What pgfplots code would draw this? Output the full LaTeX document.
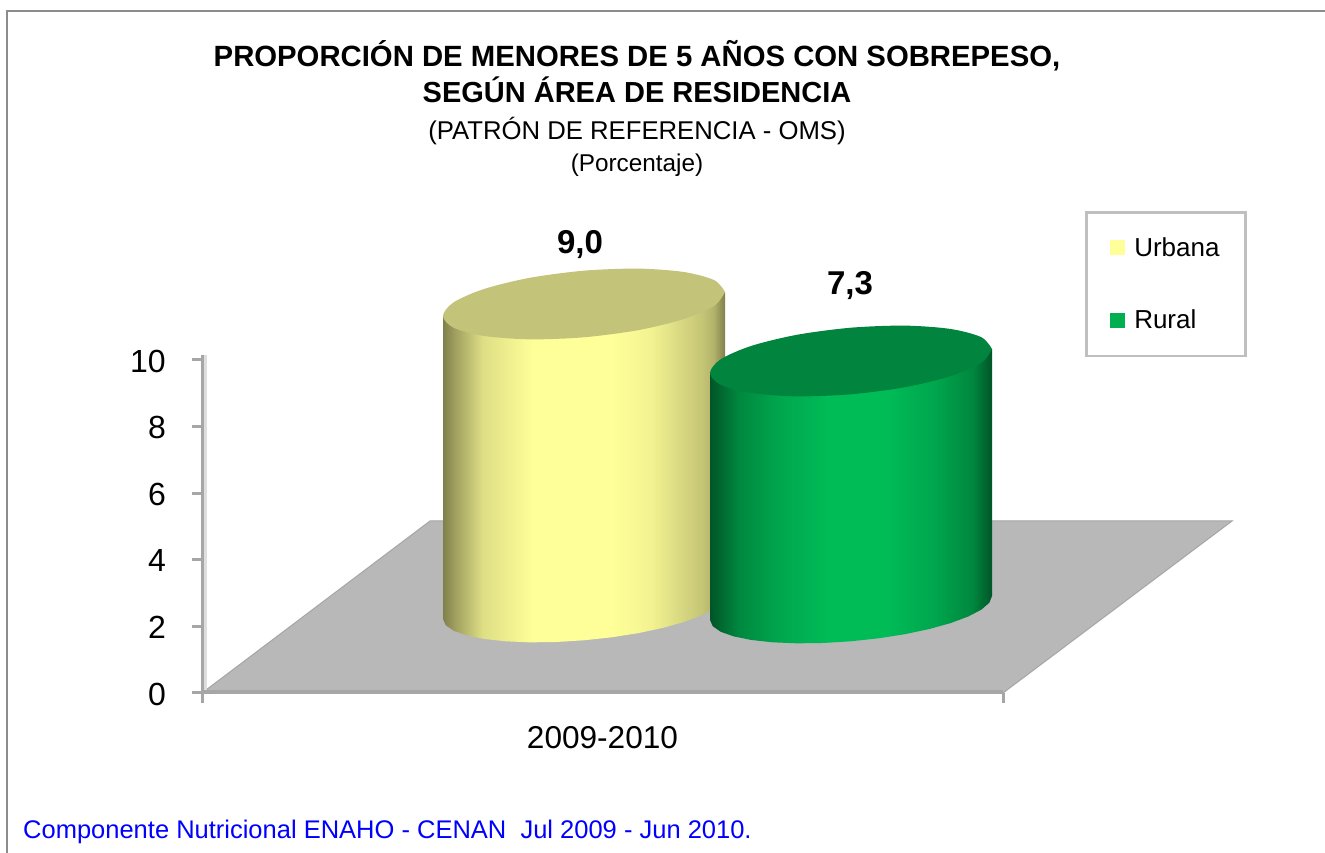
\documentclass[border=0pt]{standalone}
\usepackage{fontspec}
\setmainfont{Liberation Sans}
\usepackage{pgfplots}
\pgfplotsset{compat=1.18}
\definecolor{axisgrey}{HTML}{A6A6A6}
\definecolor{floorgrey}{HTML}{B8B8B8}
\definecolor{urbana}{HTML}{FFFF99}
\definecolor{urbanatop}{HTML}{C4C37A}
\definecolor{rural}{HTML}{00B050}
\definecolor{ruralpeak}{HTML}{00BC57}
\definecolor{ruraltop}{HTML}{00843E}
% bounding box of the path maps onto 25bp..75bp
\pgfdeclarehorizontalshading{cylyellow}{100bp}{
 color(0bp)=(urbana!50!black); color(25bp)=(urbana!50!black); color(27bp)=(urbana!62!black);
 color(32bp)=(urbana!87!black); color(41bp)=(urbana); color(55bp)=(urbana); color(62bp)=(urbana!95!black);
 color(71bp)=(urbana!77!black); color(73bp)=(urbana!70!black); color(75bp)=(urbana!50!black); color(100bp)=(urbana!50!black)}
\pgfdeclarehorizontalshading{cylgreen}{100bp}{
 color(0bp)=(ruralpeak!45!black); color(25bp)=(ruralpeak!45!black); color(30bp)=(ruralpeak!72!black);
 color(37bp)=(ruralpeak!88!black); color(46bp)=(ruralpeak); color(56bp)=(ruralpeak);
 color(65bp)=(ruralpeak!88!black); color(71.5bp)=(ruralpeak!72!black); color(75bp)=(ruralpeak!45!black); color(100bp)=(ruralpeak!45!black)}

\begin{document}
\begin{tikzpicture}
\useasboundingbox (0,0) rectangle (1325pt,853pt);
\fill[white] (0,0) rectangle (1325pt,853pt);
\draw[color=black!45,line width=2.5pt] (7pt,0) -- (7pt,842pt) -- (1325pt,842pt);

\begin{axis}[
    at={(202pt,160pt)}, anchor=south west,
    scale only axis, width=801pt, height=333pt,
    clip=false, no markers,
    xmin=202, xmax=1003, ymin=0, ymax=10,
    axis lines*=left, axis line style={-,axisgrey,line width=3pt},
    tick style={axisgrey,line width=3pt}, tick align=outside, major tick length=10pt,
    xtick={202,1003}, xticklabels={},
    ytick={0,2,4,6,8,10},
    tick label style={font=\fontsize{32}{34}\selectfont},
    /pgf/number format/assume math mode=true,
    yticklabel style={xshift=-26pt,yshift=-1pt,inner sep=0pt},
    xlabel={2009-2010},
    xlabel style={font=\fontsize{31.6}{33}\selectfont,yshift=-13pt},
    legend style={at={(axis cs:1085,14.474)},anchor=north west,
        draw=black!25,line width=2.5pt,font=\fontsize{26}{28}\selectfont,
        cells={anchor=west},inner xsep=24pt,inner ysep=23.5pt,row sep=48pt},
]
% floor
\addplot[forget plot,fill=floorgrey,draw=axisgrey,line width=1pt] coordinates {
 (202,0) (430,5.165) (1232,5.165) (1003,0)};
\addplot[forget plot,axisgrey,line width=4pt] coordinates {(202,0.03) (1003,0.03)};
\addplot[forget plot,black!13,line width=3pt] coordinates {(205.5,0.1) (205.5,10.15)};
\addplot[forget plot,axisgrey,line width=3pt] coordinates {(202,10) (202,10.15)};

% Urbana 9,0
\addplot[forget plot,draw=none,shade,shading=cylyellow] coordinates {
 (443,11.323) (725,12.041)
 (725,2.942) (722.3,2.740) (714.3,2.532) (701.2,2.326) (683.7,2.130) (662.4,1.952)
 (638,1.796) (611.5,1.672) (584,1.583) (556.5,1.532) (530,1.521) (505.6,1.552)
 (484.3,1.622) (466.8,1.729) (453.7,1.868) (445.7,2.036) (443,2.224)};
\addplot[forget plot,smooth,fill=urbanatop,draw=none] coordinates {
 (725,12.041) (714.3,11.631) (683.7,11.229) (638,10.895) (584,10.682) (530,10.620)
 (484.3,10.721) (453.7,10.967) (443,11.323) (453.7,11.733) (484.3,12.135) (530,12.469)
 (584,12.682) (638,12.744) (683.7,12.643) (714.3,12.397) (725,12.041)};

% Rural 7,3
\addplot[forget plot,draw=none,shade,shading=cylgreen] coordinates {
 (710,9.611) (992,10.329)
 (992,2.912) (989.3,2.710) (981.3,2.502) (968.2,2.296) (950.7,2.100) (929.4,1.922)
 (905,1.766) (878.5,1.642) (851,1.553) (823.5,1.502) (797,1.491) (772.6,1.522)
 (751.3,1.592) (733.8,1.699) (720.7,1.838) (712.7,2.006) (710,2.194)};
\addplot[forget plot,smooth,fill=ruraltop,draw=none] coordinates {
 (992,10.329) (981.3,9.919) (950.7,9.517) (905,9.183) (851,8.970) (797,8.908)
 (751.3,9.009) (720.7,9.255) (710,9.611) (720.7,10.021) (751.3,10.423) (797,10.757)
 (851,10.970) (905,11.032) (950.7,10.931) (981.3,10.685) (992,10.329)};

\addlegendimage{legend image code/.code={\fill[urbana,draw=none] (0pt,-7.5pt) rectangle (15pt,7.5pt); \path[draw=none] (0pt,0pt) -- (22pt,0pt);}}
\addlegendentry{Urbana}
\addlegendimage{legend image code/.code={\fill[rural,draw=none] (0pt,-7.5pt) rectangle (15pt,7.5pt); \path[draw=none] (0pt,0pt) -- (22pt,0pt);}}
\addlegendentry{Rural}

\node[font=\fontsize{33}{35}\selectfont\bfseries] at (axis cs:580,13.454) {9,0};
\node[font=\fontsize{33}{35}\selectfont\bfseries] at (axis cs:850,12.222) {7,3};
\end{axis}

\node[font=\fontsize{29.3}{31}\selectfont\bfseries] at (637pt,797pt) {PROPORCIÓN DE MENORES DE 5 AÑOS CON SOBREPESO,};
\node[font=\fontsize{29}{31}\selectfont\bfseries] at (637pt,763pt) {SEGÚN ÁREA DE RESIDENCIA};
\node[font=\fontsize{25.7}{27}\selectfont] at (637pt,722pt) {(PATRÓN DE REFERENCIA - OMS)};
\node[font=\fontsize{24.3}{26}\selectfont] at (637pt,688pt) {(Porcentaje)};
\node[font=\fontsize{25.5}{28}\selectfont,text=blue,anchor=west,inner sep=0pt] at (23pt,21.5pt) {Componente Nutricional ENAHO - CENAN\ \ Jul 2009 - Jun 2010.};
\end{tikzpicture}
\end{document}
